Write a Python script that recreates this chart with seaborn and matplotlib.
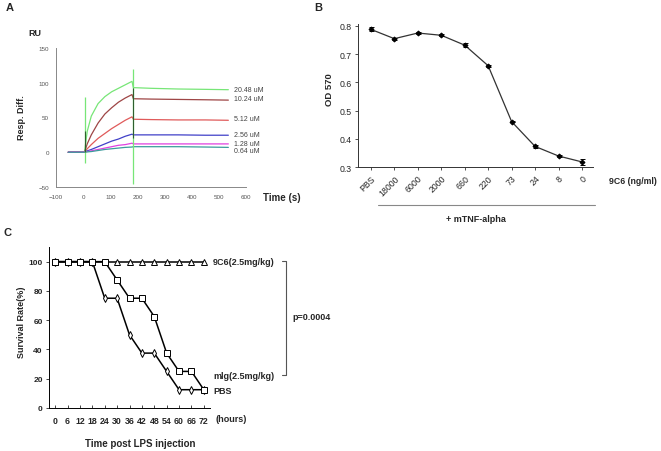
"""
Three-panel figure: SPR sensorgram (A), OD570 dose response (B), survival (C).
"""

import numpy as np
import pandas as pd
import matplotlib
matplotlib.use("Agg")
import matplotlib.pyplot as plt
import seaborn as sns

# ---- Panel A: sensorgram ----
time_s = [-55, 0, 5, 15, 30, 55, 80, 105, 130, 155, 180, 185, 250, 350, 450, 535]
resp_2048 = [0, 0, 0, 30, 52, 70, 80, 87, 92, 97, 102, 93, 92, 91, 90.5, 90]
resp_1024 = [0, 0, 0, 12, 25, 42, 55, 64, 72, 78, 83, 77, 76.5, 76, 75.5, 75]
resp_512 = [0, 0, 0, 5, 11, 20, 27, 34, 40, 46, 51, 47.5, 47, 46.5, 46.5, 46]
resp_256 = [0, 0, 0, 2, 4, 8, 12, 16, 19, 23, 26, 25, 25, 25, 24.5, 24.5]
resp_128 = [0, 0, 0, 1, 2, 4, 6, 8, 10, 11, 13, 12, 12, 12, 12, 12]
resp_064 = [0, 0, 0, 0.5, 1, 2.5, 4, 5, 6, 7, 7.5, 8, 8, 8, 7.5, 7]
conc_labels = ["20.48 uM", "10.24 uM", "5.12 uM", "2.56 uM", "1.28 uM", "0.64 uM"]
spike_t = [5, 183]
spike_lo = [-15, -45]
spike_hi = [80, 120]

# ---- Panel B: OD570 vs 9C6 dose ----
dose_labels = ["PBS", "18000", "6000", "2000", "660", "220", "73", "24", "8", "0"]
od570 = [0.788, 0.755, 0.775, 0.767, 0.732, 0.659, 0.461, 0.373, 0.339, 0.318]
od570_err = [0.007, 0.003, 0.003, 0.004, 0.006, 0.003, 0.003, 0.006, 0.003, 0.010]

# ---- Panel C: survival after LPS ----
hours = [0, 6, 12, 18, 24, 30, 36, 42, 48, 54, 60, 66, 72]
surv_9c6 = [100, 100, 100, 100, 100, 100, 100, 100, 100, 100, 100, 100, 100]
surv_mig = [100, 100, 100, 100, 100, 87.5, 75, 75, 62.5, 37.5, 25, 25, 12.5]
surv_pbs = [100, 100, 100, 100, 75, 75, 50, 37.5, 37.5, 25, 12.5, 12.5, 12.5]

sns.set_theme(style="white")
plt.rcParams['font.family'] = ['Liberation Sans', 'DejaVu Sans']

W, H = 661, 452
fig = plt.figure(figsize=(W / 100, H / 100), dpi=100)


def px(x, y):
    return x / W, 1 - y / H


def rect(x0, y0, x1, y1):
    return [x0 / W, 1 - y1 / H, (x1 - x0) / W, (y1 - y0) / H]


# ================= Panel A =================
axA = fig.add_axes(rect(56, 49, 246, 188))
colors_A = ["#77e677", "#9e4545", "#e05a5a", "#4040c8", "#e040e0", "#3c9c9c"]
series_A = [resp_2048, resp_1024, resp_512, resp_256, resp_128, resp_064]
dfA = pd.DataFrame({
    "time": time_s * len(series_A),
    "resp": np.concatenate(series_A),
    "conc": np.repeat(conc_labels, len(time_s)),
})
sns.lineplot(data=dfA, x="time", y="resp", hue="conc", palette=colors_A,
             sort=False, estimator=None, lw=0.9, legend=False, ax=axA)
axA.vlines(spike_t, spike_lo, spike_hi, color=colors_A[0], lw=0.9)
axA.vlines(spike_t, [0, 20], [30, 92], color="#2f5f2f", lw=0.8)
label_y = [91, 77, 48, 25, 12, 3]
for lab, yv in zip(conc_labels, label_y):
    axA.text(555, yv, lab, fontsize=5, color="#444444", va="center", ha="left",
             clip_on=False)
axA.set_xlim(-100, 600)
axA.set_ylim(-50, 150)
axA.set_xticks(range(-100, 601, 100))
axA.set_yticks(range(-50, 151, 50))
axA.tick_params(labelsize=4.5, labelcolor="#555555", length=2, width=0.6,
                color="#888888", pad=3)
for s in ["top", "right"]:
    axA.spines[s].set_visible(False)
for s in ["left", "bottom"]:
    axA.spines[s].set_color("#888888")
    axA.spines[s].set_linewidth(0.7)
axA.set_xlabel("")
axA.set_ylabel("")
fig.text(*px(22, 118), "Resp. Diff.", rotation=90, fontsize=6.5,
         fontweight="bold", ha="center", va="center")
fig.text(*px(35, 33), "RU", fontsize=6.5, fontweight="bold", ha="center",
         va="center")
fig.text(*px(263, 198), "Time (s)", fontsize=7, fontweight="bold", ha="left",
         va="center")
fig.text(*px(10, 8), "A", fontsize=8, fontweight="bold", ha="center",
         va="center")

# ================= Panel B =================
axB = fig.add_axes(rect(358, 25, 593, 168))
xpos = np.arange(len(dose_labels))
dfB = pd.DataFrame({"x": xpos, "od": od570})
sns.lineplot(data=dfB, x="x", y="od", color="#333333", lw=0.9, marker="D",
             markersize=2.5, markeredgecolor="black", markerfacecolor="black",
             ax=axB)
axB.errorbar(xpos, od570, yerr=od570_err, fmt="none", ecolor="black",
             elinewidth=0.7, capsize=1.8, capthick=0.7)
axB.set_xlim(-0.55, 9.47)
axB.set_ylim(0.3, 0.807)
axB.set_xticks(xpos)
axB.set_xticklabels(dose_labels, rotation=45, ha="right",
                    rotation_mode="anchor")
axB.set_yticks([0.3, 0.4, 0.5, 0.6, 0.7, 0.8])
axB.set_yticklabels(["0.3", "0.4", "0.5", "0.6", "0.7", "0.8"])
axB.tick_params(labelsize=6.3, length=2.5, width=0.6, color="#333333", pad=2,
                bottom=True, left=True)
for s in ["top", "right"]:
    axB.spines[s].set_visible(False)
for s in ["left", "bottom"]:
    axB.spines[s].set_color("#333333")
    axB.spines[s].set_linewidth(0.7)
axB.set_xlabel("")
axB.set_ylabel("")
fig.text(*px(330, 90), "OD 570", rotation=90, fontsize=6.8, fontweight="bold",
         ha="center", va="center")
fig.text(*px(609, 182), "9C6 (ng/ml)", fontsize=6.3, fontweight="bold",
         ha="left", va="center")
fig.add_artist(plt.Line2D([378 / W, 595 / W], [1 - 206 / H, 1 - 206 / H],
                          color="#888888", lw=0.8))
fig.text(*px(476, 220), "+ mTNF-alpha", fontsize=6.5, fontweight="bold",
         ha="center", va="center")
fig.text(*px(318, 8), "B", fontsize=8, fontweight="bold", ha="center",
         va="center")

# ================= Panel C =================
axC = fig.add_axes(rect(49, 248, 210, 409))
for ser, mk in [(surv_pbs, "d"), (surv_9c6, "^"), (surv_mig, "s")]:
    sns.lineplot(x=hours, y=ser, color="black", lw=1.1, marker=mk,
                 markersize=4, markerfacecolor="white",
                 markeredgecolor="black", markeredgewidth=0.7, ax=axC)
axC.set_xlim(-3, 75)
axC.set_ylim(0, 110)
axC.set_xticks(hours)
axC.set_yticks([0, 20, 40, 60, 80, 100])
axC.tick_params(axis="x", direction="in", length=2.5, width=0.6, pad=6,
                labelsize=6.3, bottom=True)
axC.tick_params(axis="y", direction="out", length=2.5, width=0.6, pad=2,
                labelsize=6, left=True)
for lab in axC.get_xticklabels() + axC.get_yticklabels():
    lab.set_fontweight("bold")
for s in ["top", "right"]:
    axC.spines[s].set_visible(False)
for s in ["left", "bottom"]:
    axC.spines[s].set_color("black")
    axC.spines[s].set_linewidth(0.7)
fig.text(*px(22, 322), "Survival Rate(%)", rotation=90, fontsize=6.5,
         fontweight="bold", ha="center", va="center")
fig.text(*px(140, 444), "Time post LPS injection", fontsize=7,
         fontweight="bold", ha="center", va="center")
fig.text(*px(216, 419), "(hours)", fontsize=6.5, fontweight="bold",
         ha="left", va="center")
fig.text(*px(213, 263), "9C6(2.5mg/kg)", fontsize=6.5, fontweight="bold",
         ha="left", va="center")
fig.text(*px(213, 377), "mlg(2.5mg/kg)", fontsize=6.5, fontweight="bold",
         ha="left", va="center")
fig.text(*px(213, 392), "PBS", fontsize=6.5, fontweight="bold", ha="left",
         va="center")
bx = [282 / W, 286 / W, 286 / W, 282 / W]
by = [1 - 262 / H, 1 - 262 / H, 1 - 376 / H, 1 - 376 / H]
fig.add_artist(plt.Line2D(bx, by, color="#555555", lw=0.8))
fig.text(*px(292, 318), "p=0.0004", fontsize=6.5, fontweight="bold",
         ha="left", va="center")
fig.text(*px(8, 233), "C", fontsize=8, fontweight="bold", ha="center",
         va="center")

fig.savefig("out.png", dpi=100)
plt.close(fig)
